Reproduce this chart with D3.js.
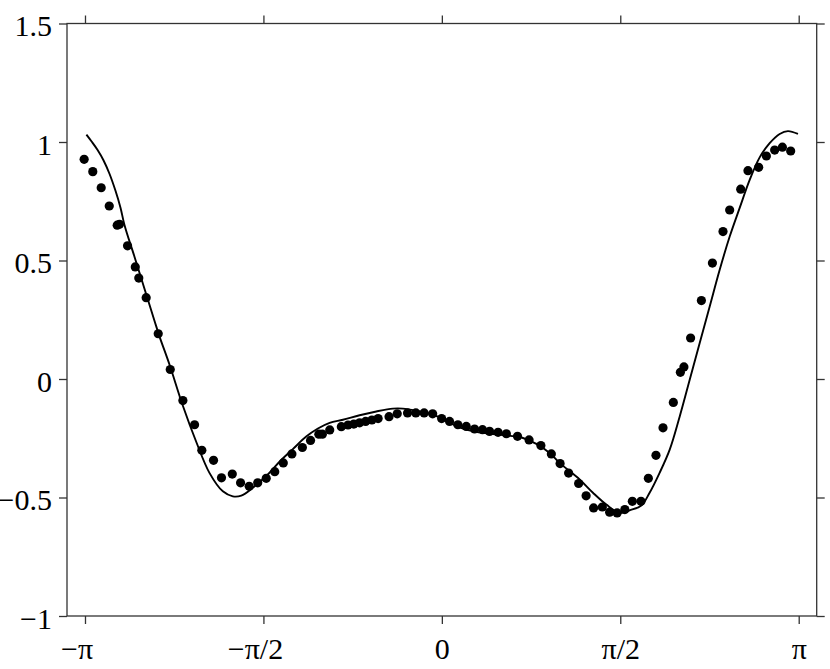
<!DOCTYPE html>
<html><head><meta charset="utf-8">
<script src="https://cdn.jsdelivr.net/npm/d3@7"></script>
<style>
body{margin:0;background:#fff}
text{font-family:"Liberation Serif","Times New Roman",serif;}
</style>
</head><body>
<svg id="c" width="830" height="669"></svg>
<script>
// Sample points (dots)
const dotX = [-3.149,-3.073,-2.999,-2.928,-2.858,-2.838,-2.767,-2.699,-2.668,-2.603,-2.497,-2.391,-2.280,-2.177,-2.113,-2.010,-1.940,-1.845,-1.772,-1.696,-1.621,-1.546,-1.471,-1.396,-1.320,-1.228,-1.156,-1.083,-1.052,-0.987,-0.885,-0.826,-0.775,-0.724,-0.671,-0.616,-0.561,-0.465,-0.393,-0.302,-0.229,-0.156,-0.081,-0.002,0.068,0.141,0.215,0.288,0.358,0.420,0.495,0.568,0.666,0.768,0.872,0.964,1.041,1.116,1.204,1.270,1.336,1.413,1.477,1.543,1.611,1.677,1.753,1.818,1.885,1.947,2.038,2.100,2.131,2.190,2.285,2.382,2.475,2.534,2.631,2.695,2.789,2.857,2.930,2.998,3.071];
const dotY = [0.927,0.875,0.807,0.730,0.649,0.653,0.562,0.473,0.426,0.343,0.191,0.040,-0.091,-0.193,-0.301,-0.343,-0.417,-0.401,-0.438,-0.453,-0.438,-0.419,-0.391,-0.354,-0.316,-0.289,-0.259,-0.233,-0.233,-0.215,-0.201,-0.194,-0.190,-0.185,-0.179,-0.173,-0.167,-0.159,-0.147,-0.143,-0.143,-0.143,-0.147,-0.167,-0.179,-0.193,-0.200,-0.211,-0.214,-0.221,-0.225,-0.231,-0.242,-0.257,-0.281,-0.316,-0.357,-0.397,-0.441,-0.493,-0.544,-0.540,-0.562,-0.565,-0.551,-0.516,-0.516,-0.419,-0.322,-0.206,-0.099,0.028,0.051,0.173,0.331,0.489,0.622,0.713,0.801,0.879,0.893,0.941,0.966,0.978,0.962];

// Fitted curve
const lineX = [-3.129,-3.085,-3.032,-2.979,-2.926,-2.873,-2.829,-2.794,-2.706,-2.618,-2.530,-2.486,-2.397,-2.280,-2.160,-2.046,-1.928,-1.840,-1.766,-1.664,-1.532,-1.429,-1.312,-1.194,-1.091,-0.988,-0.871,-0.724,-0.577,-0.431,-0.343,-0.225,-0.079,0.039,0.156,0.303,0.450,0.568,0.714,0.832,0.949,1.037,1.213,1.330,1.448,1.565,1.653,1.756,1.829,1.917,2.006,2.094,2.182,2.270,2.358,2.446,2.534,2.622,2.710,2.798,2.886,2.974,3.047,3.135];
const lineY = [1.031,1.003,0.967,0.923,0.866,0.794,0.723,0.650,0.516,0.381,0.246,0.180,0.060,-0.113,-0.268,-0.396,-0.474,-0.495,-0.492,-0.459,-0.403,-0.349,-0.296,-0.243,-0.209,-0.185,-0.172,-0.153,-0.137,-0.125,-0.125,-0.134,-0.150,-0.176,-0.204,-0.223,-0.232,-0.238,-0.249,-0.274,-0.312,-0.354,-0.424,-0.480,-0.530,-0.565,-0.554,-0.534,-0.480,-0.396,-0.298,-0.158,-0.003,0.152,0.306,0.461,0.601,0.722,0.840,0.935,0.995,1.034,1.046,1.034];

const xTicks = [-Math.PI, -Math.PI/2, 0, Math.PI/2, Math.PI];
const xTickLabels = ["−π","−π/2","0","π/2","π"];
const yTicks = [-1, -0.5, 0, 0.5, 1, 1.5];
const yTickLabels = ["−1","−0.5","0","0.5","1","1.5"];

const svg = d3.select("#c");
const L = 67, R = 816.7, T = 23.5, B = 616;
const x = d3.scaleLinear().domain([-3.3, 3.3]).range([L, R]);
const y = d3.scaleLinear().domain([-1, 1.5]).range([B, T]);
const axisColor = "#333";
const fs = 30;

// box
svg.append("rect").attr("x", L).attr("y", T).attr("width", R - L).attr("height", B - T)
  .attr("fill", "none").attr("stroke", axisColor).attr("stroke-width", 1.3);

function styleAxis(g){
  g.select(".domain").remove();
  g.selectAll(".tick line").attr("stroke", axisColor).attr("stroke-width", 1.3);
}

// bottom
const gB = svg.append("g").attr("transform", `translate(0,${B})`)
  .call(d3.axisBottom(x).tickValues(xTicks).tickSize(8).tickFormat((d,i)=>xTickLabels[i]));
styleAxis(gB);
const tmp = svg.append("text").attr("font-size", fs).text("−");
const minusW = tmp.node().getComputedTextLength();
tmp.remove();
gB.selectAll(".tick text")
  .attr("font-family", null).attr("font-size", fs).attr("fill", "#000")
  .attr("y", 43).attr("dy", 0)
  .attr("x", (d,i)=> xTickLabels[i].startsWith("−") ? -minusW/2 : 0);

// top
const gT = svg.append("g").attr("transform", `translate(0,${T})`)
  .call(d3.axisTop(x).tickValues(xTicks).tickSize(8).tickFormat(""));
styleAxis(gT);

// left
const gL = svg.append("g").attr("transform", `translate(${L},0)`)
  .call(d3.axisLeft(y).tickValues(yTicks).tickSize(8).tickPadding(7).tickFormat((d,i)=>yTickLabels[i]));
styleAxis(gL);
gL.selectAll(".tick text")
  .attr("font-family", null).attr("font-size", fs).attr("fill", "#000")
  .attr("dy", 12);

// right
const gR = svg.append("g").attr("transform", `translate(${R},0)`)
  .call(d3.axisRight(y).tickValues(yTicks).tickSize(8).tickFormat(""));
styleAxis(gR);

// curve
const pts = lineX.map((v,i)=>[v, lineY[i]]);
svg.append("path").datum(pts)
  .attr("fill", "none").attr("stroke", "#000").attr("stroke-width", 1.9)
  .attr("d", d3.line().x(d=>x(d[0])).y(d=>y(d[1])).curve(d3.curveCatmullRom.alpha(0.5)));

// dots
svg.append("g").selectAll("circle").data(dotX.map((v,i)=>[v, dotY[i]])).join("circle")
  .attr("cx", d=>x(d[0])).attr("cy", d=>y(d[1])).attr("r", 4.6).attr("fill", "#000");
</script>
</body></html>
